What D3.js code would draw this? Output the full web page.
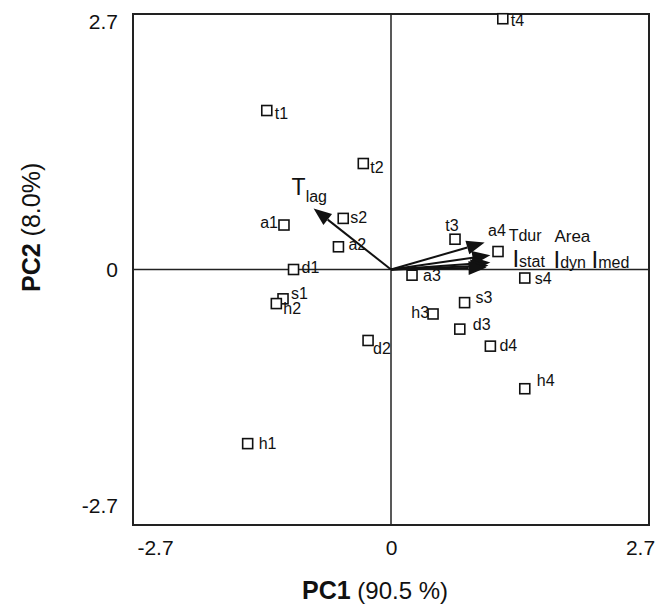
<!DOCTYPE html>
<html>
<head>
<meta charset="utf-8">
<script src="https://cdn.jsdelivr.net/npm/d3@7"></script>
<style>
  body { margin: 0; background: #fff; }
  svg text { font-family: "Liberation Sans", Arial, Helvetica, sans-serif; fill: #111; }
</style>
</head>
<body>
<div id="chart"></div>
<script>
// sample scores (PC1, PC2)
var sampleNames = ["t4", "t1", "t2", "s2", "a2", "a1", "d1", "s1", "h2", "h1",
                   "d2", "a3", "t3", "a4", "s4", "h3", "s3", "d3", "d4", "h4"];
var pc1Scores = [1.17, -1.30, -0.29, -0.50, -0.55, -1.12, -1.02, -1.13, -1.20, -1.50,
                 -0.24, 0.22, 0.67, 1.12, 1.40, 0.44, 0.77, 0.72, 1.04, 1.40];
var pc2Scores = [2.65, 1.68, 1.12, 0.54, 0.24, 0.47, 0.00, -0.31, -0.36, -1.84,
                 -0.75, -0.06, 0.32, 0.19, -0.09, -0.47, -0.35, -0.63, -0.81, -1.26];

// variable loadings
var varMain = ["T", "T", "Area", "I", "I", "I"];
var varSub = ["lag", "dur", "", "stat", "dyn", "med"];
var pc1Loadings = [-0.81, 0.98, 1.04, 1.04, 1.02, 1.00];
var pc2Loadings = [0.645, 0.285, 0.15, 0.075, 0.042, 0.021];

var tickValues = [-2.7, 0, 2.7];
var tickLabels = ["-2.7", "0", "2.7"];

// label placement next to the squares: [dx, dy, anchor]
var labelPlace = {
  t4: [8, 7, "start"], t1: [8, 8, "start"], t2: [7, 9, "start"], s2: [7, 5, "start"],
  a2: [10, 3, "start"], a1: [-6, 3, "end"], d1: [8, 3, "start"], s1: [8, 0, "start"],
  h2: [7, 10, "start"], h1: [11, 5, "start"], d2: [5, 14, "start"], a3: [11, 6, "start"],
  t3: [-3, -8, "middle"], a4: [-10, -16, "start"], s4: [10, 6, "start"], h3: [-4, 4, "end"],
  s3: [11, 0, "start"], d3: [13, 1, "start"], d4: [9, 5, "start"], h4: [12, -3, "start"]
};
// label placement for the arrows, from the tip
var varPlace = [[-22, -13], [24, -2], [64, -13], [22, 5], [65, 2], [105, 0]];
var varSize = [23, 16, 17, 24, 24, 24];

var W = 666, H = 608;
var plotL = 133, plotT = 14, plotR = 649, plotB = 525;

var svg = d3.select("#chart").append("svg")
  .attr("width", W)
  .attr("height", H);

var x = d3.scaleLinear().domain([-2.7, 2.7]).range([plotL, plotR]);
var y = d3.scaleLinear().domain([-2.7, 2.7]).range([plotB, plotT]);

// zero lines
svg.append("line")
  .attr("x1", x(-2.7)).attr("x2", x(2.7))
  .attr("y1", y(0)).attr("y2", y(0))
  .attr("stroke", "#222").attr("stroke-width", 1.5);
svg.append("line")
  .attr("x1", x(0)).attr("x2", x(0))
  .attr("y1", y(2.7)).attr("y2", y(-2.7))
  .attr("stroke", "#222").attr("stroke-width", 1.5);

// frame
svg.append("rect")
  .attr("x", plotL).attr("y", plotT)
  .attr("width", plotR - plotL).attr("height", plotB - plotT)
  .attr("fill", "none").attr("stroke", "#222").attr("stroke-width", 2);

// axes (labels only)
var yShift = {"2.7": 8, "0": 0, "-2.7": -19};
var yAxis = svg.append("g")
  .attr("transform", "translate(" + plotL + ",0)")
  .call(d3.axisLeft(y).tickValues(tickValues).tickSize(0)
    .tickFormat(function(d, i) { return tickLabels[i]; }));
yAxis.select(".domain").remove();
yAxis.selectAll("text")
  .attr("x", -15)
  .attr("y", function(d) { return yShift[String(d)]; })
  .style("font-size", "21px")
  .attr("fill", "#111");

var xShift = {"2.7": -9, "0": 0, "-2.7": 22};
var xAxis = svg.append("g")
  .attr("transform", "translate(0," + plotB + ")")
  .call(d3.axisBottom(x).tickValues(tickValues).tickSize(0)
    .tickFormat(function(d, i) { return tickLabels[i]; }));
xAxis.select(".domain").remove();
xAxis.selectAll("text")
  .attr("x", function(d) { return xShift[String(d)]; })
  .attr("y", 15)
  .style("font-size", "21px")
  .attr("fill", "#111");

// axis titles
var xt = svg.append("text")
  .attr("x", 302).attr("y", 599);
xt.append("tspan").style("font-weight", "bold").style("font-size", "25px").text("PC1");
xt.append("tspan").style("font-size", "24px").text(" (90.5 %)");

var yt = svg.append("text")
  .attr("transform", "translate(40," + 292 + ") rotate(-90)");
yt.append("tspan").style("font-weight", "bold").style("font-size", "25px").text("PC2");
yt.append("tspan").style("font-size", "25px").text(" (8.0%)");

// loading arrows
var headLen = 18, headHalf = 7;
pc1Loadings.forEach(function(v, i) {
  var x0 = x(0), y0 = y(0);
  var x1 = x(v), y1 = y(pc2Loadings[i]);
  var dx = x1 - x0, dy = y1 - y0;
  var len = Math.sqrt(dx * dx + dy * dy);
  var ux = dx / len, uy = dy / len;
  var bx = x1 - ux * headLen, by = y1 - uy * headLen;

  svg.append("line")
    .attr("x1", x0).attr("y1", y0)
    .attr("x2", bx).attr("y2", by)
    .attr("stroke", "#111").attr("stroke-width", 2);

  svg.append("polygon")
    .attr("points", [
      [x1, y1],
      [bx - uy * headHalf, by + ux * headHalf],
      [bx + uy * headHalf, by - ux * headHalf]
    ].map(function(p) { return p.join(","); }).join(" "))
    .attr("fill", "#111");

  var t = svg.append("text")
    .attr("x", x1 + varPlace[i][0])
    .attr("y", y1 + varPlace[i][1])
    .style("font-size", varSize[i] + "px");
  t.append("tspan").text(varMain[i]);
  if (varSub[i] !== "") {
    t.append("tspan")
      .attr("dy", i === 0 ? 7 : 0)
      .style("font-size", "16px")
      .text(varSub[i]);
  }
});

// sample squares
var sq = 10;
var pts = svg.selectAll(".pt")
  .data(sampleNames)
  .enter()
  .append("g")
  .attr("class", "pt");

pts.append("rect")
  .attr("x", function(d, i) { return x(pc1Scores[i]) - sq / 2; })
  .attr("y", function(d, i) { return y(pc2Scores[i]) - sq / 2; })
  .attr("width", sq).attr("height", sq)
  .attr("fill", "#fff")
  .attr("stroke", "#111")
  .attr("stroke-width", 1.6);

pts.append("text")
  .attr("x", function(d, i) { return x(pc1Scores[i]) + labelPlace[d][0]; })
  .attr("y", function(d, i) { return y(pc2Scores[i]) + labelPlace[d][1]; })
  .attr("text-anchor", function(d) { return labelPlace[d][2]; })
  .style("font-size", "16px")
  .text(function(d) { return d; });
</script>
</body>
</html>
